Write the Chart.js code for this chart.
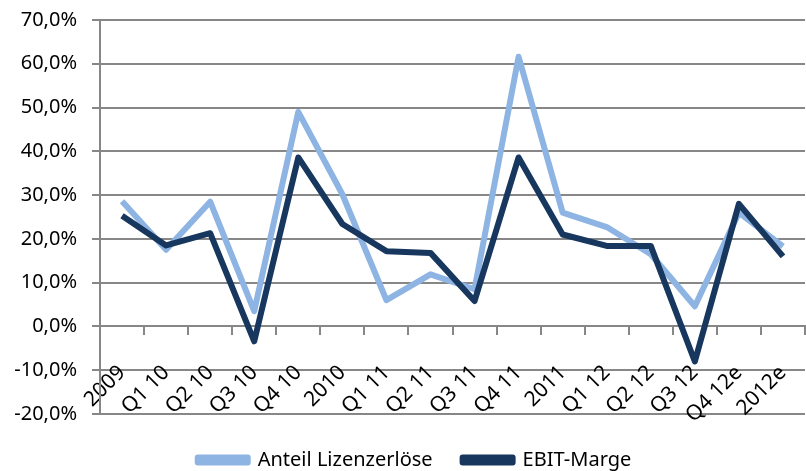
<!DOCTYPE html>
<html>
<head>
<meta charset="utf-8">
<script src="https://cdn.jsdelivr.net/npm/chart.js@4/dist/chart.umd.min.js"></script>
<style>
  html, body { margin: 0; padding: 0; background: #fff; }
  .wrap { width: 806px; height: 471px; }
</style>
</head>
<body>
<div class="wrap"><canvas id="chart" width="806" height="471"></canvas></div>
<script>
// Kategorien und Werte (in %)
const categories = ['2009', 'Q1 10', 'Q2 10', 'Q3 10', 'Q4 10', '2010', 'Q1 11', 'Q2 11',
  'Q3 11', 'Q4 11', '2011', 'Q1 12', 'Q2 12', 'Q3 12', 'Q4 12e', '2012e'];
const lizenzAnteil = [28.6, 17.5, 28.5, 3.5, 49.0, 30.2, 6.0, 11.9, 8.5, 61.6, 26.0, 22.7, 16.5, 4.6, 26.0, 18.3];
const ebitMarge = [25.3, 18.5, 21.3, -3.4, 38.6, 23.4, 17.2, 16.8, 5.8, 38.6, 21.0, 18.4, 18.4, -8.0, 28.0, 16.0];
const yTicks = { min: -20, max: 70, step: 10 };

const font = "'Noto Sans', 'Open Sans', sans-serif";
const gridGray = '#878787';

const fmtPct = v => v.toFixed(1).replace('.', ',') + '%';

// Achsen sollen keinen Extra-Rand ums Diagramm erzeugen
const noPad = s => { s.paddingLeft = 0; s.paddingRight = 0; s.paddingTop = 0; s.paddingBottom = 0; };

// Legende etwas nach rechts, wie im Original
const legendShift = {
  id: 'legendShift',
  afterLayout(chart) {
    if (chart.legend) { chart.legend.left += 12; chart.legend.right += 12; }
  }
};

new Chart(document.getElementById('chart'), {
  type: 'line',
  data: {
    labels: categories,
    datasets: [
      {
        label: 'Anteil Lizenzerlöse',
        data: lizenzAnteil,
        borderColor: '#8DB4E2',
        backgroundColor: '#8DB4E2',
        borderWidth: 6,
        pointRadius: 0,
        tension: 0,
        borderJoinStyle: 'round',
        order: 2
      },
      {
        label: 'EBIT-Marge',
        data: ebitMarge,
        borderColor: '#17375E',
        backgroundColor: '#17375E',
        borderWidth: 6,
        pointRadius: 0,
        tension: 0,
        borderJoinStyle: 'round',
        order: 1
      }
    ]
  },
  options: {
    responsive: false,
    animation: false,
    layout: { padding: { top: 20, right: 1, left: 0, bottom: 0 } },
    scales: {
      x: {
        position: { y: 0 },
        offset: true,
        afterFit: noPad,
        grid: {
          offset: true,
          drawOnChartArea: false,
          drawTicks: true,
          tickLength: 8,
          color: gridGray,
          lineWidth: 2
        },
        border: { color: gridGray, width: 2 },
        ticks: {
          minRotation: 45,
          maxRotation: 45,
          autoSkip: false,
          color: '#000',
          padding: 26,
          font: { family: font, size: 21 }
        }
      },
      y: {
        min: yTicks.min,
        max: yTicks.max,
        afterFit: s => { noPad(s); s.width = 100; },
        grid: {
          color: gridGray,
          lineWidth: 2,
          drawTicks: true,
          tickLength: 8
        },
        border: { color: gridGray, width: 2 },
        ticks: {
          stepSize: yTicks.step,
          color: '#000',
          padding: 15,
          font: { family: font, size: 20 },
          callback: v => fmtPct(v)
        }
      }
    },
    plugins: {
      legend: {
        position: 'bottom',
        maxHeight: 57,
        title: { display: true, text: ' ', font: { size: 5 }, padding: 0 },
        labels: {
          boxWidth: 50,
          boxHeight: 5,
          padding: 30,
          color: '#000',
          font: { family: font, size: 20 },
          sort: (a, b) => a.datasetIndex - b.datasetIndex
        }
      },
      tooltip: { enabled: false }
    }
  },
  plugins: [legendShift]
});
</script>
</body>
</html>
